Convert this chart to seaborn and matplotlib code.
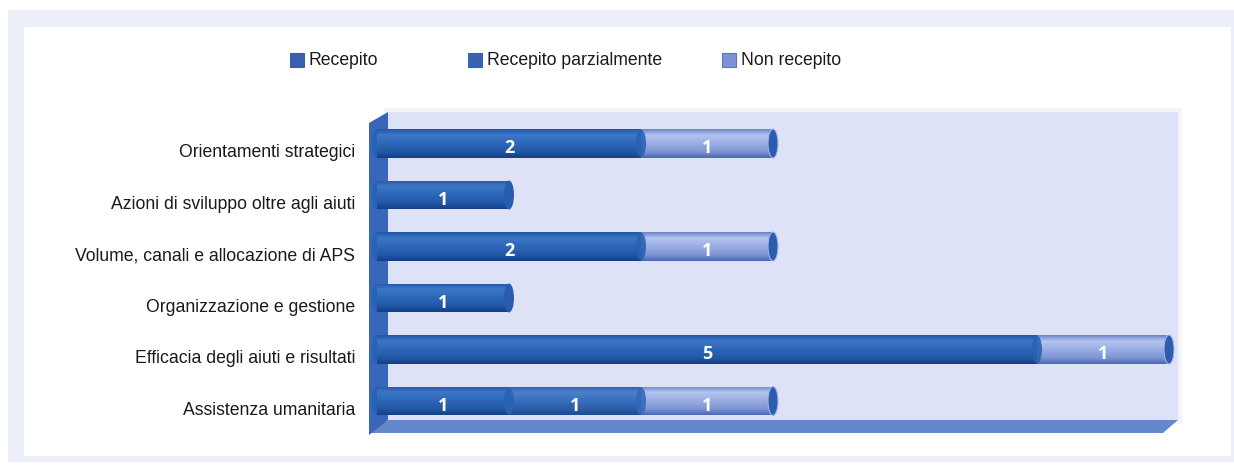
import numpy as np
import pandas as pd
import matplotlib
matplotlib.use("Agg")
import matplotlib.pyplot as plt
from matplotlib.patches import Rectangle, Polygon, Ellipse
from matplotlib.colors import LinearSegmentedColormap
from matplotlib.transforms import ScaledTranslation
import seaborn as sns

# ---- data -------------------------------------------------------------
categories = [
    "Orientamenti strategici",
    "Azioni di sviluppo oltre agli aiuti",
    "Volume, canali e allocazione di APS",
    "Organizzazione e gestione",
    "Efficacia degli aiuti e risultati",
    "Assistenza umanitaria",
]
recepito = [2, 1, 2, 1, 5, 1]
parziale = [0, 0, 0, 0, 0, 1]
non_recepito = [1, 0, 1, 0, 1, 1]
series_names = ["Recepito", "Recepito parzialmente", "Non recepito"]

# ---- style ------------------------------------------------------------
sns.set_theme(style="white")
plt.rcParams["font.family"] = ["Liberation Sans Narrow", "Liberation Sans", "DejaVu Sans"]

legend_colors = ["#3a5fae", "#3a62b4", "#7c94d6"]
# vertical shading of each cylinder segment, top -> bottom
shades = {
    "Recepito": ["#2456a6", "#3c76c7", "#336cbd", "#2a62b2", "#2157a5", "#153f86"],
    "Recepito parzialmente": ["#2b5eae", "#4b80cd", "#3f74c2", "#3469b7", "#2b5ca8", "#1c4a92"],
    "Non recepito": ["#6a84ca", "#b4c3ef", "#a3b5e9", "#90a5df", "#7c93d4", "#4a68b6"],
}
cap_colors = {"Recepito": "#2a5cad", "Recepito parzialmente": "#3065b3", "Non recepito": "#2b5cae"}

W, H = 1234, 465
fig = plt.figure(figsize=(W / 100, H / 100), dpi=100)

# background layer in pixel coordinates: frame, walls, floor, legend
bg = fig.add_axes([0, 0, 1, 1], zorder=0)
bg.set_xlim(0, W)
bg.set_ylim(H, 0)
bg.axis("off")
bg.add_patch(Rectangle((8, 10), W - 8, 452, fc="#eceff9", ec="none"))
bg.add_patch(Rectangle((24, 27), 1207, 429, fc="white", ec="none"))
bg.add_patch(Rectangle((384, 108), 798, 316, fc="#f3f5fc", ec="none"))
bg.add_patch(Rectangle((388, 112), 790, 308, fc="#dde2f6", ec="none"))
bg.add_patch(Polygon([(388, 420), (1178, 420), (1163, 433), (369, 433)], closed=True,
                     fc="#6587cc", ec="none"))
bg.add_patch(Polygon([(369, 123), (388, 112), (388, 420), (369, 435)], closed=True,
                     fc="#3866b8", ec="none"))

legend_x = [290, 468, 722]
for name, col, lx in zip(series_names, legend_colors, legend_x):
    ec = "#5a74c0" if name == "Non recepito" else col
    bg.add_patch(Rectangle((lx, 53), 14, 14, fc=col, ec=ec, lw=0.8))
    bg.text(lx + 19, 60.5, name, ha="left", va="center", fontsize=12.7, color="#1a1a1a")

# ---- bars -------------------------------------------------------------
x0_px, ppu = 377, 132.0
xmin, xmax = -0.06, 6.1
row0_px, row_step = 143.5, 51.5
ytop = (112 - row0_px) / row_step
ybot = (420 - row0_px) / row_step
ax_left = x0_px + xmin * ppu
ax = fig.add_axes([ax_left / W, 1 - 420 / H, (xmax - xmin) * ppu / W, 308 / H], zorder=1)
ax.set_facecolor("none")

rec = np.array(recepito)
par = np.array(parziale)
non = np.array(non_recepito)
layers = [
    ("Non recepito", rec + par + non),
    ("Recepito parzialmente", rec + par),
    ("Recepito", rec),
]
bar_h = 0.56
for name, vals in layers:
    sns.barplot(x=vals, y=categories, orient="h", color=shades[name][3], width=bar_h,
                saturation=1, errorbar=None, ax=ax)

patches = list(ax.patches)
for k, (name, vals) in enumerate(layers):
    cmap = LinearSegmentedColormap.from_list(name, shades[name])
    grad = np.linspace(0, 1, 64).reshape(-1, 1)
    for p in patches[k * len(categories):(k + 1) * len(categories)]:
        if p.get_width() <= 0:
            continue
        x_a, y_a = p.get_x(), p.get_y()
        im = ax.imshow(grad, cmap=cmap, aspect="auto", interpolation="bilinear",
                       extent=(x_a, x_a + p.get_width(), y_a + p.get_height(), y_a),
                       origin="upper", zorder=2 + k)
        im.set_clip_path(p)
        p.set_facecolor("none")
        p.set_edgecolor("none")

cap_w = 10 / ppu
for i in range(len(categories)):
    # rounded left end
    ax.add_patch(Ellipse((0, i), cap_w, bar_h, fc=shades["Recepito"][3], ec="none", zorder=1.5))
    # curved joints between segments and the closing cap
    bounds = [("Recepito", rec[i], rec[i]),
              ("Recepito parzialmente", par[i], rec[i] + par[i]),
              ("Non recepito", non[i], rec[i] + par[i] + non[i])]
    total = rec[i] + par[i] + non[i]
    for name, v, end in bounds:
        if v <= 0:
            continue
        if end < total:
            ax.add_patch(Ellipse((end, i), cap_w, bar_h * 0.96, fc=shades[name][3],
                                 ec="none", zorder=4.5, alpha=0.9))
        else:
            ax.add_patch(Ellipse((end, i), cap_w, bar_h, fc=cap_colors[name],
                                 ec="#9fb3e6" if name == "Non recepito" else "none",
                                 lw=0.8, zorder=5, clip_on=False))

# value labels, centred in each segment
lab_dy = 4.5 / row_step
for i in range(len(categories)):
    start = 0
    for v in (rec[i], par[i], non[i]):
        if v > 0:
            ax.text(start + v / 2, i + lab_dy, str(v), ha="center", va="center", color="white",
                    fontsize=13, fontweight="bold", family=["Open Sans", "DejaVu Sans"], zorder=6)
        start += v

ax.set_xlim(xmin, xmax)
ax.set_ylim(ybot, ytop)
ax.set_xlabel("")
ax.set_ylabel("")
ax.set_xticks([])
ax.set_yticks(range(len(categories)))
ax.set_yticklabels(categories, fontsize=12.7, color="#1a1a1a")
ax.tick_params(axis="y", length=0, pad=10)
shift = ScaledTranslation(0, -7 / 100, fig.dpi_scale_trans)
for lbl in ax.get_yticklabels():
    lbl.set_transform(lbl.get_transform() + shift)
for s in ax.spines.values():
    s.set_visible(False)

fig.savefig("out.png", dpi=100)
